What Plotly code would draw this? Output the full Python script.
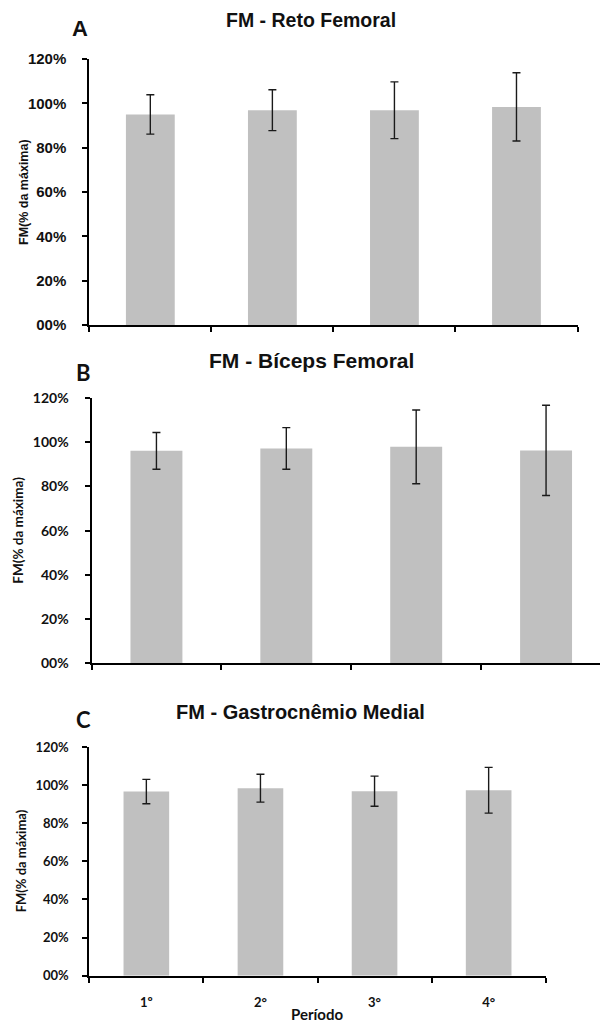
import plotly.graph_objects as go

periods = ["1º", "2°", "3°", "4°"]

reto_mean = [95.0, 96.9, 96.9, 98.4]
reto_err = [8.9, 9.2, 12.8, 15.4]

biceps_mean = [96.1, 97.2, 97.9, 96.3]
biceps_err = [8.3, 9.4, 16.7, 20.4]

gastro_mean = [96.6, 98.4, 96.8, 97.3]
gastro_err = [6.4, 7.3, 7.9, 12.0]

ytick_vals = [0, 20, 40, 60, 80, 100, 120]
ytick_text = ["00%", "20%", "40%", "60%", "80%", "100%", "120%"]

panel_titles = ["FM - Reto Femoral", "FM - Bíceps Femoral", "FM - Gastrocnêmio Medial"]
panel_letters = ["A", "B", "C"]
y_title = "FM(% da máxima)"
x_title = "Período"

W, H = 600, 1022
BAR = "#c0c0c0"
INK = "#111111"

fig = go.Figure()


def px_x(v):
    return v / W


def px_y(v):
    return 1 - v / H


panels = [
    dict(mean=reto_mean, err=reto_err, x0=89.3, x1=577.5, top=59, bot=325,
         xrange=[-0.5, 3.5],
         tickfont=dict(family="Liberation Sans", size=15, color=INK, weight="bold"),
         standoff=13, ytx=24, ytfont="Liberation Sans", ytsize=12.5,
         title_x=311, title_y=20, title_size=19.5,
         letter_x=80, letter_y=29, letter_font="Liberation Sans"),
    dict(mean=biceps_mean, err=biceps_err, x0=91.5, x1=600, top=398, bot=663.3,
         xrange=[-0.5, -0.5 + 4 * (600 - 91.5) / (611 - 91.5)],
         tickfont=dict(family="Lato", size=14, color=INK, weight="bold"),
         standoff=13, ytx=18, ytfont="Lato", ytsize=13.5,
         title_x=311, title_y=360, title_size=21,
         letter_x=83, letter_y=372, letter_font="Lato"),
    dict(mean=gastro_mean, err=gastro_err, x0=89.3, x1=545.7, top=747, bot=975.7,
         xrange=[-0.5, 3.5],
         tickfont=dict(family="Lato", size=13, color=INK, weight="bold"),
         standoff=11, ytx=21, ytfont="Lato", ytsize=13,
         title_x=300, title_y=712, title_size=20,
         letter_x=83, letter_y=719, letter_font="Lato"),
]

annotations = []
for i, p in enumerate(panels):
    n = "" if i == 0 else str(i + 1)
    fig.add_trace(go.Bar(
        x=periods, y=p["mean"], width=0.4, marker=dict(color=BAR, line=dict(width=0)),
        error_y=dict(type="data", array=p["err"], visible=True, color="#1a1a1a",
                     thickness=1.4, width=4),
        xaxis="x" + n, yaxis="y" + n, showlegend=False, hoverinfo="skip",
    ))
    fig.layout["xaxis" + n] = dict(
        domain=[px_x(p["x0"]), min(1.0, px_x(p["x1"]))], anchor="y" + n,
        type="category", range=p["xrange"], showline=True, linecolor="black", linewidth=2,
        ticks="outside", tickson="boundaries", ticklen=5, tickwidth=2, tickcolor="black",
        showgrid=False, zeroline=False, showticklabels=(i == 2), automargin=False,
        tickfont=dict(family="Lato", size=13, color=INK, weight="bold"),
        ticklabelstandoff=14,
    )
    fig.layout["yaxis" + n] = dict(
        domain=[px_y(p["bot"]), px_y(p["top"])], anchor="x" + n,
        range=[0, 120], tickvals=ytick_vals, ticktext=ytick_text,
        showline=True, linecolor="black", linewidth=2, ticks="outside", ticklen=5,
        tickwidth=2, tickcolor="black", showgrid=False, zeroline=False,
        tickfont=p["tickfont"], ticklabelstandoff=p["standoff"], automargin=False,
    )
    annotations.append(dict(
        text="<b>" + panel_titles[i] + "</b>", x=px_x(p["title_x"]), y=px_y(p["title_y"]),
        xref="paper", yref="paper", showarrow=False, xanchor="center", yanchor="middle",
        font=dict(family="Liberation Sans", size=p["title_size"], color=INK),
    ))
    annotations.append(dict(
        text="<b>" + panel_letters[i] + "</b>", x=px_x(p["letter_x"]), y=px_y(p["letter_y"]),
        xref="paper", yref="paper", showarrow=False, xanchor="center", yanchor="middle",
        font=dict(family=p["letter_font"], size=22, color=INK),
    ))
    annotations.append(dict(
        text="<b>" + y_title + "</b>", x=px_x(p["ytx"]), y=px_y((p["top"] + p["bot"]) / 2),
        xref="paper", yref="paper", showarrow=False, xanchor="center", yanchor="middle",
        textangle=-90, font=dict(family=p["ytfont"], size=p["ytsize"], color=INK),
    ))

annotations.append(dict(
    text="<b>" + x_title + "</b>", x=px_x(317), y=px_y(1014),
    xref="paper", yref="paper", showarrow=False, xanchor="center", yanchor="middle",
    font=dict(family="Lato", size=15, color=INK),
))

fig.update_layout(
    width=W, height=H, margin=dict(l=0, r=0, t=0, b=0, autoexpand=False),
    paper_bgcolor="white", plot_bgcolor="white",
    annotations=annotations, bargap=0.6,
)

fig.write_html(
    "out.html",
    config={"displayModeBar": False},
    post_script="document.body.style.margin='0';document.body.style.overflow='hidden';",
)
